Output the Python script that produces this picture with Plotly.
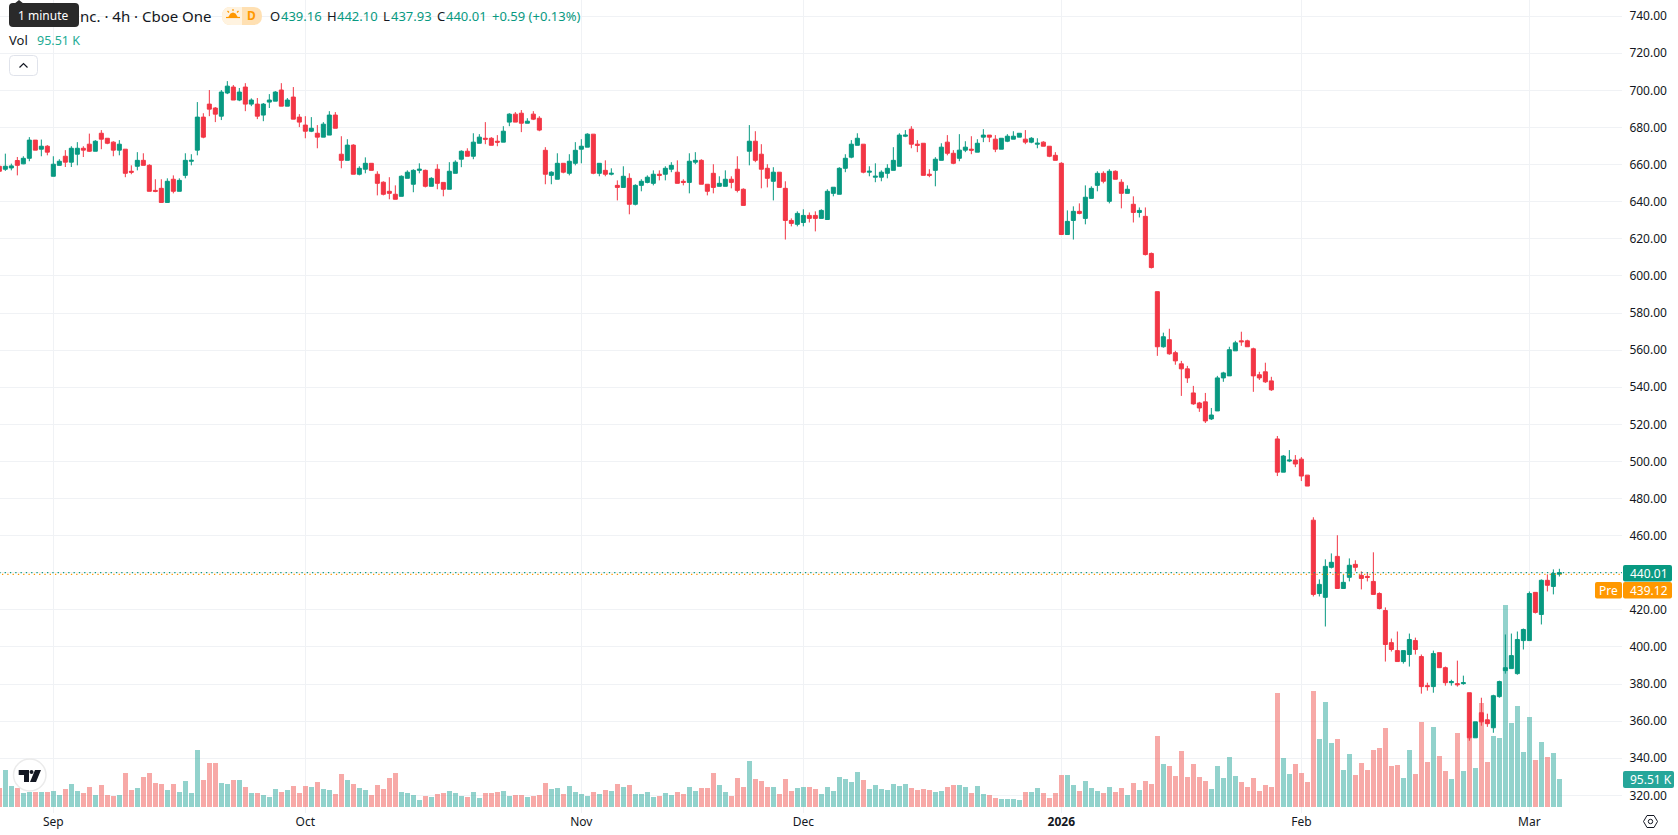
import plotly.graph_objects as go

WIDTH, HEIGHT = 1678, 835
PANE_RIGHT, PANE_BOTTOM = 1622, 813

bar_index = list(range(-1, 260))

opens = [
    659.1, 657.5, 658.2, 662.2, 660.4, 663.4, 673.2, 668.3, 669.9, 653.7,
    659.6, 664.5, 661.3, 665.6, 668.8, 671.0, 667.2, 676.9, 674.2, 672.1,
    667.8, 668.3, 656.4, 659.1, 662.3, 659.6, 646.1, 647.2, 639.6, 652.1,
    645.6, 654.2, 661.8, 667.8, 685.6, 692.6, 690.5, 686.1, 698.6, 701.8,
    694.8, 701.8, 692.6, 692.6, 686.7, 693.7, 694.2, 700.2, 691.5, 696.4,
    685.6, 681.3, 678.0, 676.9, 674.8, 675.9, 686.7, 665.6, 662.3, 670.5,
    654.8, 657.5, 660.7, 654.8, 650.5, 645.6, 644.0, 642.9, 652.6, 649.4,
    656.9, 656.9, 648.3, 657.5, 650.4, 646.7, 655.3, 662.9, 667.2, 664.5,
    671.5, 674.2, 674.2, 672.6, 672.1, 682.9, 687.2, 687.7, 682.3, 687.2,
    685.0, 667.7, 654.2, 652.1, 660.7, 655.3, 660.7, 668.3, 669.4, 676.4,
    655.3, 656.9, 654.8, 648.8, 647.7, 652.6, 638.6, 648.8, 650.4, 649.9,
    654.8, 654.8, 657.5, 655.9, 651.0, 650.4, 661.3, 662.3, 649.4, 655.3,
    648.3, 648.3, 652.1, 657.5, 646.7, 667.2, 672.6, 665.6, 658.0, 651.0,
    655.9, 647.2, 629.9, 627.8, 628.8, 632.6, 632.6, 631.0, 630.4, 644.5,
    644.0, 658.0, 664.0, 670.4, 671.0, 655.9, 653.2, 653.2, 655.3, 656.9,
    659.1, 675.3, 679.1, 671.0, 671.5, 654.8, 656.9, 662.3, 672.1, 666.1,
    663.4, 667.8, 668.3, 666.7, 674.8, 675.9, 673.7, 668.3, 672.6, 673.7,
    674.8, 673.7, 672.1, 671.0, 672.1, 669.9, 665.0, 660.7, 622.3, 629.9,
    634.8, 631.0, 641.8, 648.8, 655.3, 640.2, 656.4, 650.5, 644.5, 638.6,
    634.2, 632.1, 612.1, 591.5, 561.8, 565.6, 558.6, 552.6, 549.9, 536.9,
    531.5, 532.1, 522.9, 527.2, 545.0, 546.1, 559.6, 565.0, 565.0, 560.7,
    546.7, 548.3, 543.4, 512.1, 494.2, 500.2, 500.7, 501.2, 492.6, 468.3,
    428.8, 426.7, 442.9, 448.8, 431.5, 437.5, 444.5, 438.6, 438.0, 435.3,
    428.8, 419.6, 402.3, 398.0, 392.1, 395.9, 403.4, 394.8, 379.1, 378.6,
    396.9, 388.8, 380.7, 380.2, 380.2, 375.3, 351.0, 364.5, 360.7, 356.4,
    373.2, 387.2, 388.3, 385.6, 403.4, 403.4, 429.4, 417.5, 435.9, 432.6,
    439.16,
]

highs = [
    659.1, 665.9, 660.5, 664.1, 664.5, 674.8, 673.2, 673.5, 670.5, 664.5,
    662.9, 667.8, 669.9, 672.1, 669.9, 676.7, 673.2, 678.6, 674.2, 672.6,
    673.2, 668.3, 659.6, 666.7, 666.1, 660.2, 652.1, 652.1, 652.6, 654.2,
    652.6, 666.1, 665.6, 693.7, 687.7, 700.2, 691.0, 700.2, 705.0, 702.9,
    701.3, 703.9, 695.7, 695.9, 693.2, 698.0, 699.6, 703.9, 695.9, 701.8,
    687.2, 686.1, 685.6, 681.3, 682.9, 688.8, 688.3, 675.3, 673.7, 671.0,
    659.1, 663.9, 660.7, 656.4, 651.0, 653.2, 648.8, 654.2, 656.9, 657.5,
    660.7, 657.3, 653.2, 660.2, 650.4, 661.3, 662.3, 667.7, 668.8, 676.9,
    676.4, 682.9, 674.8, 675.9, 680.7, 687.7, 688.3, 689.4, 685.0, 688.8,
    686.1, 669.4, 656.4, 666.1, 660.7, 665.6, 672.1, 673.7, 676.9, 676.4,
    660.7, 662.3, 658.0, 651.5, 659.1, 655.3, 649.4, 652.1, 654.2, 656.9,
    656.9, 659.1, 661.3, 662.3, 652.1, 666.1, 666.7, 662.9, 649.4, 660.2,
    653.7, 656.9, 653.7, 664.5, 647.2, 681.3, 678.0, 671.0, 660.2, 658.6,
    655.9, 651.0, 631.0, 634.8, 635.9, 634.2, 634.8, 635.9, 646.7, 647.8,
    658.6, 665.6, 673.2, 676.9, 671.0, 659.1, 660.7, 656.9, 660.2, 669.4,
    676.9, 678.6, 680.7, 673.2, 671.5, 657.5, 664.0, 671.5, 675.9, 667.8,
    676.4, 672.6, 675.3, 673.7, 679.1, 675.9, 675.9, 674.2, 676.4, 678.0,
    676.9, 678.6, 674.8, 674.2, 672.6, 669.9, 666.7, 661.3, 635.3, 637.5,
    639.1, 648.8, 648.3, 656.4, 656.4, 657.5, 656.9, 652.1, 648.8, 642.9,
    636.9, 636.9, 612.6, 591.5, 569.4, 571.5, 559.6, 554.2, 551.5, 540.7,
    532.1, 536.9, 528.8, 546.1, 548.3, 561.8, 565.0, 569.9, 565.6, 561.3,
    548.3, 553.2, 545.6, 513.7, 503.4, 506.1, 503.4, 502.3, 492.6, 469.9,
    436.4, 447.2, 450.4, 460.2, 439.1, 447.7, 446.7, 440.7, 440.2, 451.0,
    429.4, 421.3, 404.5, 408.3, 398.0, 407.2, 405.0, 395.9, 380.7, 398.0,
    396.9, 389.4, 382.3, 392.6, 384.5, 375.3, 359.6, 372.6, 364.0, 374.2,
    381.8, 406.7, 407.2, 408.3, 409.9, 429.9, 429.4, 436.4, 439.1, 441.8,
    442.10,
]

lows = [
    656.4, 656.6, 656.9, 654.2, 660.2, 661.8, 667.8, 664.5, 665.0, 653.7,
    659.6, 658.7, 658.7, 659.6, 664.1, 666.8, 667.2, 668.3, 671.0, 664.5,
    665.0, 653.2, 654.8, 656.9, 659.6, 645.6, 645.1, 639.6, 639.6, 644.5,
    645.6, 652.6, 659.6, 665.0, 674.2, 686.1, 682.9, 684.0, 698.0, 694.8,
    694.2, 688.8, 691.5, 684.5, 683.4, 690.5, 694.2, 691.5, 691.5, 684.5,
    680.2, 674.2, 677.5, 668.8, 674.8, 675.9, 679.6, 658.0, 662.3, 654.8,
    654.2, 655.3, 656.9, 643.4, 643.4, 641.3, 641.3, 642.9, 652.6, 645.1,
    655.3, 647.7, 648.3, 646.7, 642.9, 646.7, 655.3, 658.6, 664.5, 662.9,
    671.5, 671.0, 670.4, 669.9, 672.1, 680.7, 682.9, 677.5, 682.3, 684.0,
    678.0, 649.4, 649.4, 652.1, 655.3, 654.2, 659.6, 660.7, 669.4, 654.8,
    653.7, 653.7, 654.2, 640.7, 647.7, 633.2, 638.0, 645.6, 649.9, 648.8,
    651.5, 651.5, 655.9, 649.9, 648.8, 644.5, 660.2, 649.4, 643.4, 644.5,
    648.3, 648.3, 647.2, 645.0, 638.0, 659.6, 661.3, 647.2, 647.7, 640.7,
    647.7, 619.6, 626.7, 626.7, 626.7, 628.8, 624.0, 631.0, 630.4, 642.9,
    644.0, 655.9, 663.4, 670.4, 655.3, 653.7, 650.5, 651.0, 652.6, 656.9,
    659.1, 674.8, 668.8, 666.7, 654.2, 653.2, 648.3, 662.3, 665.0, 660.2,
    661.8, 666.7, 665.6, 666.7, 672.1, 672.1, 666.7, 668.3, 672.1, 673.7,
    674.8, 671.0, 671.5, 668.8, 669.9, 664.0, 662.3, 622.3, 622.3, 619.6,
    633.2, 627.8, 641.8, 645.6, 649.9, 639.1, 652.1, 636.4, 644.5, 628.8,
    631.5, 611.0, 604.0, 556.9, 561.3, 557.5, 552.1, 535.3, 542.3, 530.5,
    526.7, 520.7, 522.3, 527.2, 542.9, 546.1, 559.6, 562.3, 561.8, 537.5,
    543.9, 542.3, 538.0, 492.1, 494.2, 499.6, 496.9, 489.4, 486.7, 427.2,
    427.2, 411.0, 442.3, 431.5, 431.5, 435.3, 440.7, 431.0, 435.3, 428.3,
    420.2, 392.1, 397.5, 392.1, 391.0, 389.4, 395.9, 374.8, 376.4, 375.3,
    388.8, 379.1, 379.1, 378.6, 379.6, 349.4, 351.0, 357.5, 356.9, 353.7,
    372.6, 385.6, 388.3, 385.0, 398.6, 403.4, 418.0, 412.1, 429.9, 428.3,
    437.93,
]

closes = [
    656.4, 659.1, 659.3, 659.6, 663.4, 673.2, 667.8, 669.9, 666.7, 660.2,
    661.8, 661.3, 668.8, 668.8, 667.8, 667.2, 672.6, 673.7, 671.5, 667.8,
    671.0, 655.3, 655.9, 662.3, 659.6, 645.6, 645.6, 639.6, 651.0, 645.6,
    651.5, 662.3, 662.3, 685.6, 674.8, 689.9, 687.2, 699.1, 702.3, 694.8,
    699.1, 692.6, 694.8, 686.1, 692.6, 694.8, 699.1, 691.5, 694.8, 684.5,
    682.9, 678.0, 679.6, 674.8, 681.8, 686.7, 679.6, 662.3, 670.5, 654.8,
    658.0, 660.7, 656.9, 649.9, 644.0, 644.5, 641.3, 653.7, 655.9, 656.9,
    657.5, 648.3, 652.6, 649.9, 646.7, 656.4, 661.3, 667.2, 664.5, 672.1,
    674.8, 673.7, 670.4, 672.1, 678.0, 687.2, 682.9, 682.3, 683.4, 684.5,
    678.6, 654.8, 655.9, 660.7, 655.9, 661.8, 667.7, 669.9, 676.4, 655.3,
    660.7, 654.8, 655.3, 647.7, 653.7, 638.6, 648.8, 651.0, 653.2, 654.8,
    654.2, 658.0, 659.6, 649.9, 650.4, 661.8, 662.3, 649.4, 645.6, 647.7,
    649.9, 652.1, 650.4, 646.1, 638.0, 672.6, 662.3, 657.5, 652.6, 655.9,
    647.7, 629.9, 628.3, 633.7, 632.6, 631.0, 631.0, 635.3, 645.6, 647.8,
    658.0, 663.4, 671.0, 674.2, 655.9, 656.4, 653.7, 655.9, 658.0, 662.3,
    675.9, 675.9, 671.0, 670.4, 654.2, 654.2, 662.9, 669.4, 666.1, 660.7,
    667.8, 669.4, 667.8, 671.5, 675.9, 674.8, 668.3, 674.2, 675.3, 675.3,
    676.9, 672.1, 674.2, 671.5, 669.9, 664.5, 662.3, 622.3, 629.4, 634.8,
    633.7, 642.4, 647.2, 655.3, 651.0, 656.4, 652.1, 644.5, 646.7, 634.2,
    635.3, 611.5, 604.5, 561.8, 567.2, 558.0, 554.2, 549.9, 545.0, 531.0,
    528.8, 521.8, 525.0, 545.0, 547.7, 560.2, 563.9, 564.5, 561.8, 546.1,
    545.0, 542.9, 538.6, 494.2, 502.9, 500.7, 498.6, 492.1, 486.7, 428.3,
    433.7, 443.4, 445.6, 431.5, 434.8, 444.0, 442.9, 436.9, 437.5, 428.3,
    420.7, 401.3, 398.6, 392.1, 398.0, 404.0, 398.6, 378.6, 378.6, 396.4,
    388.8, 380.7, 381.3, 379.6, 380.7, 351.0, 359.6, 359.6, 358.6, 373.7,
    381.3, 388.8, 395.3, 404.0, 409.4, 428.8, 418.6, 435.9, 433.2, 439.6,
    440.01,
]

# Volume per bar, in thousands of shares
volumes = [
    64.8, 126.2, 71.6, 64.8, 47.8, 51.2, 51.2, 51.2, 51.2, 54.6,
    40.9, 61.4, 78.5, 54.6, 47.8, 68.2, 40.9, 75.0, 40.9, 37.5,
    40.9, 116.0, 58.0, 64.8, 102.3, 116.0, 81.9, 78.5, 58.0, 78.5,
    51.2, 88.7, 47.8, 194.4, 92.1, 150.1, 150.1, 81.9, 78.5, 92.1,
    92.1, 68.2, 47.8, 47.8, 40.9, 34.1, 61.4, 51.2, 58.0, 71.6,
    47.8, 71.6, 68.2, 85.3, 61.4, 58.0, 44.3, 112.6, 92.1, 78.5,
    64.8, 58.0, 40.9, 75.0, 61.4, 98.9, 116.0, 51.2, 47.8, 40.9,
    23.9, 37.5, 34.1, 44.3, 47.8, 54.6, 47.8, 37.5, 34.1, 51.2,
    30.7, 47.8, 47.8, 51.2, 54.6, 37.5, 40.9, 40.9, 34.1, 37.5,
    40.9, 81.9, 61.4, 64.8, 44.3, 71.6, 51.2, 44.3, 37.5, 51.2,
    44.3, 58.0, 54.6, 78.5, 68.2, 75.0, 44.3, 44.3, 51.2, 34.1,
    37.5, 47.8, 40.9, 51.2, 44.3, 68.2, 54.6, 64.8, 64.8, 116.0,
    75.0, 51.2, 37.5, 98.9, 68.2, 156.9, 95.5, 88.7, 68.2, 68.2,
    44.3, 95.5, 54.6, 64.8, 68.2, 68.2, 61.4, 44.3, 68.2, 54.6,
    102.3, 95.5, 85.3, 119.4, 92.1, 61.4, 75.0, 61.4, 58.0, 78.5,
    71.6, 78.5, 64.8, 58.0, 61.4, 58.0, 51.2, 54.6, 68.2, 75.0,
    75.0, 68.2, 47.8, 71.6, 44.3, 40.9, 30.7, 27.3, 27.3, 27.3,
    23.9, 51.2, 51.2, 64.8, 47.8, 30.7, 47.8, 109.2, 109.2, 75.0,
    54.6, 88.7, 64.8, 54.6, 47.8, 68.2, 51.2, 64.8, 40.9, 81.9,
    58.0, 88.7, 78.5, 242.2, 146.7, 139.9, 105.7, 191.0, 102.3, 146.7,
    102.3, 88.7, 61.4, 139.9, 98.9, 170.6, 105.7, 85.3, 68.2, 98.9,
    54.6, 75.0, 68.2, 388.9, 167.1, 112.6, 146.7, 116.0, 85.3, 395.7,
    232.0, 358.2, 218.3, 232.0, 126.2, 180.8, 109.2, 150.1, 126.2, 194.4,
    201.2, 269.5, 139.9, 143.3, 98.9, 194.4, 112.6, 289.9, 153.5, 272.9,
    174.0, 122.8, 95.5, 252.4, 122.8, 235.4, 133.0, 354.7, 153.5, 242.2,
    235.4, 689.0, 286.5, 344.5, 187.6, 307.0, 160.3, 221.7, 170.6, 184.2,
    95.51,
]

month_positions = [8, 50, 96, 133, 176, 216, 254]
month_labels = ["Sep", "Oct", "Nov", "Dec", "<b>2026</b>", "Feb", "Mar"]
price_ticks = list(range(320, 760, 20))
last_price = closes[-1]
premarket_price = 439.12
last_volume = volumes[-1]

UP = "#089981"
DOWN = "#F23645"
VOL_UP = "rgba(38,166,154,0.5)"
VOL_DOWN = "rgba(239,83,80,0.5)"
GRID = "#f0f2f5"
INK = "#131722"
ORANGE = "#FF9800"
FONT = "Noto Sans"


def fx(px):
    return px / WIDTH


def fy(py):
    return 1 - py / HEIGHT


def rounded_rect(x0, y0, x1, y1, r):
    a, b, c, d = fx(x0), fx(x1), fy(y0), fy(y1)
    rx, ry = r / WIDTH, r / HEIGHT
    return (
        f"M{a + rx},{c} L{b - rx},{c} Q{b},{c} {b},{c - ry} L{b},{d + ry} "
        f"Q{b},{d} {b - rx},{d} L{a + rx},{d} Q{a},{d} {a},{d + ry} "
        f"L{a},{c - ry} Q{a},{c} {a + rx},{c} Z"
    )


def left_pill(x0, y0, x1, y1, r):
    a, b, c, d = fx(x0), fx(x1), fy(y0), fy(y1)
    rx, ry = r / WIDTH, r / HEIGHT
    return (
        f"M{a + rx},{c} L{b},{c} L{b},{d} L{a + rx},{d} "
        f"Q{a},{d} {a},{d + ry} L{a},{c - ry} Q{a},{c} {a + rx},{c} Z"
    )


def polyline(points, close=False):
    body = " L".join(f"{fx(x)},{fy(y)}" for x, y in points)
    return "M" + body + (" Z" if close else "")


def path_shape(path, fill=None, line=None, width=1):
    return dict(
        type="path", xref="paper", yref="paper", path=path, layer="above",
        fillcolor=fill or "rgba(0,0,0,0)",
        line=dict(color=line or "rgba(0,0,0,0)", width=width if line else 0),
    )


def label(x, y, text, color=INK, size=13, anchor="left"):
    return dict(
        xref="paper", yref="paper", x=fx(x), y=fy(y), text=text, showarrow=False,
        xanchor=anchor, yanchor="middle", align=anchor,
        font=dict(family=FONT, size=size, color=color),
    )


fig = go.Figure()

# Volume histogram sits on its own axis beneath the candles
fig.add_trace(go.Bar(
    x=bar_index, y=volumes, width=5 / 6, yaxis="y", xaxis="x",
    marker=dict(
        color=[VOL_UP if c >= o else VOL_DOWN for o, c in zip(opens, closes)],
        line=dict(width=0),
    ),
    hoverinfo="skip", showlegend=False,
))

fig.add_trace(go.Candlestick(
    x=bar_index, open=opens, high=highs, low=lows, close=closes,
    yaxis="y2", xaxis="x", showlegend=False, whiskerwidth=0,
    increasing=dict(line=dict(color=UP, width=1), fillcolor=UP),
    decreasing=dict(line=dict(color=DOWN, width=1), fillcolor=DOWN),
))

# Last and pre-market price lines, dots interleaved across the pane
for price, color, dash in (
    (last_price, UP, "1.3px,4px"),
    (premarket_price, ORANGE, "0px,2.65px,1.3px,1.35px"),
):
    fig.add_trace(go.Scatter(
        x=[bar_index[0], 269.44], y=[price, price], yaxis="y2", xaxis="x",
        mode="lines", line=dict(color=color, width=1.3, dash=dash),
        hoverinfo="skip", showlegend=False,
    ))

shapes = [
    # Price and volume badges
    path_shape(rounded_rect(1623, 565, 1672, 581.5, 2), fill=UP),
    path_shape(rounded_rect(1595, 582, 1622, 598.5, 2), fill=ORANGE),
    path_shape(rounded_rect(1623, 582, 1672, 598.5, 2), fill=ORANGE),
    path_shape(rounded_rect(1623, 771, 1674, 788, 2), fill="#26A69A"),
    # Collapse button
    path_shape(rounded_rect(9.5, 55.5, 37.5, 75.5, 4), fill="#ffffff", line="#E0E3EB"),
    path_shape(polyline([(19.5, 67.5), (23.5, 63.5), (27.5, 67.5)]), line=INK, width=1.2),
    # Session pill with sun glyph
    path_shape(rounded_rect(222, 7, 262, 25, 9), fill="#FFE0B2"),
    path_shape(left_pill(222, 7, 242, 25, 9), fill="#FFF3E0"),
    path_shape(polyline([(228, 17.5), (230.5, 13.5), (233, 12.5), (235.5, 13.5), (238, 17.5)], close=True), fill=ORANGE),
    path_shape(polyline([(226, 17.5), (240, 17.5)]), line=ORANGE, width=1.2),
    path_shape(polyline([(233, 9), (233, 11)]), line=ORANGE, width=1.2),
    path_shape(polyline([(227.5, 11), (229, 12.5)]), line=ORANGE, width=1.2),
    path_shape(polyline([(238.5, 11), (237, 12.5)]), line=ORANGE, width=1.2),
    # Interval tooltip
    path_shape(polyline([(14, 4), (19, 0), (24, 4)], close=True), fill="#2A2A2A"),
    path_shape(rounded_rect(9, 3, 79, 27, 4), fill="#2A2A2A"),
    # Logo badge
    dict(type="circle", xref="paper", yref="paper", layer="above",
         x0=fx(13.5), x1=fx(46), y0=fy(791), y1=fy(759),
         fillcolor="#ffffff", line=dict(color="#EBEBEB", width=1.5)),
    path_shape(polyline([(18.7, 770), (29, 770), (29, 782), (24, 782), (24, 775), (18.7, 775)], close=True), fill="#131722"),
    dict(type="circle", xref="paper", yref="paper", layer="above",
         x0=fx(29.5), x1=fx(33.5), y0=fy(774), y1=fy(770),
         fillcolor="#131722", line=dict(width=0)),
    path_shape(polyline([(35, 770), (41, 770), (36, 782), (30, 782)], close=True), fill="#131722"),
    # Settings glyph at the axis corner
    path_shape(polyline([(1643.5, 821.5), (1647, 815.5), (1654, 815.5), (1657.5, 821.5), (1654, 827.5), (1647, 827.5)], close=True), line=INK, width=1),
    dict(type="circle", xref="paper", yref="paper", layer="above",
         x0=fx(1648.3), x1=fx(1652.7), y0=fy(823.7), y1=fy(819.3),
         line=dict(color=INK, width=1)),
]

annotations = [
    label(78, 16, "nc. · 4h · Cboe One", size=15),
    label(43, 15, "1 minute", color="#ffffff", size=12, anchor="center"),
    label(251, 16, "<b>D</b>", color=ORANGE, size=12, anchor="center"),
    label(268, 16, "O"),
    label(279, 16, "439.16", color=UP),
    label(325, 16, "H"),
    label(335, 16, "442.10", color=UP),
    label(381, 16, "L"),
    label(389, 16, "437.93", color=UP),
    label(435, 16, "C"),
    label(444, 16, "440.01", color=UP),
    label(490, 16, "+0.59 (+0.13%)", color=UP),
    label(7, 40.5, "Vol", size=13),
    label(35, 40.5, f"{last_volume:.2f} K", color="#22AB94", size=12.5),
    label(1628, 573.5, f"{last_price:.2f}", color="#ffffff", size=12),
    label(1597, 590.5, "Pre", color="#ffffff", size=12),
    label(1628, 590.5, f"{premarket_price:.2f}", color="#ffffff", size=12),
    label(1628, 779.5, f"{last_volume:.2f} K", color="#ffffff", size=12),
]

domain_bottom = (HEIGHT - PANE_BOTTOM) / HEIGHT

fig.update_layout(
    width=WIDTH, height=HEIGHT, autosize=False,
    margin=dict(l=0, r=0, t=0, b=0, pad=0),
    paper_bgcolor="#ffffff", plot_bgcolor="#ffffff",
    font=dict(family=FONT, size=12, color=INK),
    boxgap=0.33, boxgroupgap=0, bargap=0, dragmode=False, showlegend=False,
    xaxis=dict(
        domain=[0, PANE_RIGHT / WIDTH], range=[-0.888, 269.44], anchor="y",
        tickmode="array", tickvals=month_positions, ticktext=month_labels,
        showgrid=True, gridcolor=GRID, gridwidth=1, zeroline=False, showline=False,
        ticks="", tickfont=dict(family=FONT, size=12, color=INK),
        rangeslider=dict(visible=False),
    ),
    yaxis=dict(
        domain=[domain_bottom, 1], range=[-20.46, 2752.7], visible=False,
        showgrid=False, zeroline=False, fixedrange=True,
    ),
    yaxis2=dict(
        domain=[domain_bottom, 1], range=[310.46, 748.73], overlaying="y", anchor="x",
        side="right", tickmode="array", tickvals=price_ticks,
        ticktext=[f"{v:.2f}" for v in price_ticks],
        showgrid=True, gridcolor=GRID, gridwidth=1, zeroline=False, showline=False,
        ticks="outside", ticklen=4, tickcolor="rgba(0,0,0,0)",
        tickfont=dict(family=FONT, size=12, color=INK), fixedrange=True,
    ),
    shapes=shapes, annotations=annotations,
)

fig.write_html("out.html", config=dict(displayModeBar=False))
